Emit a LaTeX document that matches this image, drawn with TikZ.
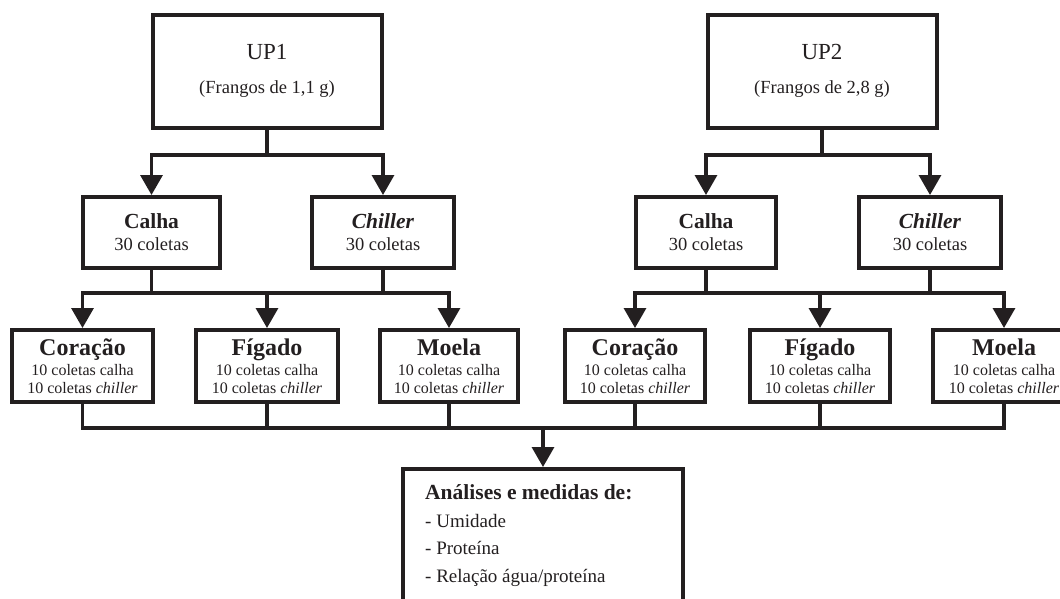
\documentclass[tikz,border=0pt]{standalone}
\usepackage{fontspec}
\setmainfont{Liberation Serif}
\usepackage{xcolor}
\usepackage{tikz}
\usetikzlibrary{positioning,arrows.meta}

\definecolor{ink}{RGB}{35,31,32}
\newcommand{\fs}[2]{\fontsize{#1}{#2}\selectfont}
\tikzset{
    caixa/.style={rectangle, draw=ink, line width=4pt, align=center, inner sep=0pt, text=ink},
    caixaup/.style={caixa, minimum width=229pt, minimum height=113pt, font=\fs{18.5}{34}},
    caixatrat/.style={caixa, minimum width=140pt, minimum height=71pt, font=\fs{18.5}{22}},
    caixaorg/.style={caixa, minimum width=141pt, minimum height=72pt, font=\fs{16}{17.5}},
    linha/.style={draw=ink, line width=3.3pt, line cap=rect},
    seta/.style={linha, -{Triangle[width=22pt,length=20pt]}},
}

\begin{document}
\begin{tikzpicture}[x=1pt, y=-1pt]
    \useasboundingbox (0,0) rectangle (1060,598);
    \clip (0,0) rectangle (1060,598);

    % unidades de producao
    \node(up1) [caixaup] at (267,71) {{\fs{23}{34}UP1}\\(Frangos de 1,1 g)};
    \node(up2) [caixaup] at (822,71) {{\fs{23}{34}UP2}\\(Frangos de 2,8 g)};

    % pontos de coleta
    \node(calha1) [caixatrat, minimum width=137pt] at (151.5,232.5) {{\fs{21.5}{22}\textbf{Calha}}\\30 coletas};
    \node(chiller1) [caixatrat, minimum width=142pt] at (383,232.5) {{\fs{21.5}{22}\textbf{\textit{Chiller}}}\\30 coletas};
    \node(calha2) [caixatrat] at (706,232.5) {{\fs{21.5}{22}\textbf{Calha}}\\30 coletas};
    \node(chiller2) [caixatrat, minimum width=142pt] at (930,232.5) {{\fs{21.5}{22}\textbf{\textit{Chiller}}}\\30 coletas};

    % orgaos
    \node(coracao1) [caixaorg] at (82.5,366) {{\fs{24}{24}\textbf{Coração}}\\[2.5pt]10 coletas calha\\10 coletas \textit{chiller}};
    \node(figado1) [caixaorg, minimum width=142pt] at (267,366) {{\fs{24}{24}\textbf{Fígado}}\\[2.5pt]10 coletas calha\\10 coletas \textit{chiller}};
    \node(moela1) [caixaorg, minimum width=138pt] at (449,366) {{\fs{24}{24}\textbf{Moela}}\\[2.5pt]10 coletas calha\\10 coletas \textit{chiller}};
    \node(coracao2) [caixaorg, minimum width=140pt] at (635,366) {{\fs{24}{24}\textbf{Coração}}\\[2.5pt]10 coletas calha\\10 coletas \textit{chiller}};
    \node(figado2) [caixaorg, minimum width=140pt] at (820,366) {{\fs{24}{24}\textbf{Fígado}}\\[2.5pt]10 coletas calha\\10 coletas \textit{chiller}};
    \node(moela2) [caixaorg, minimum width=142pt] at (1004,366) {{\fs{24}{24}\textbf{Moela}}\\[2.5pt]10 coletas calha\\10 coletas \textit{chiller}};

    % analises
    \node(analise) [caixa, minimum width=280pt, minimum height=170pt, anchor=north] at (543,467) {};
    \node(itens) [anchor=base west, align=left, inner sep=0pt, text=ink, font=\fs{19}{27.5}] at (425,582) {{\fs{21.5}{27.5}\textbf{Análises e medidas de:}}\\- Umidade\\- Proteína\\- Relação água/proteína};

    \coordinate(bus1) at (0,155);
    \coordinate(bus2) at (0,293);
    \coordinate(bus3) at (0,428);

    % ligacoes
    \draw[linha] (up1.south) -- (up1.south |- bus1);
    \draw[seta] (up1.south |- bus1) -| (calha1.north);
    \draw[seta] (up1.south |- bus1) -| (chiller1.north);
    \draw[linha] (up2.south) -- (up2.south |- bus1);
    \draw[seta] (up2.south |- bus1) -| (calha2.north);
    \draw[seta] (up2.south |- bus1) -| (chiller2.north);

    \draw[linha] (calha1.south) -- (calha1.south |- bus2);
    \draw[linha] (chiller1.south) -- (chiller1.south |- bus2);
    \draw[linha] (coracao1.north |- bus2) -- (moela1.north |- bus2);
    \draw[linha] (calha2.south) -- (calha2.south |- bus2);
    \draw[linha] (chiller2.south) -- (chiller2.south |- bus2);
    \draw[linha] (coracao2.north |- bus2) -- (moela2.north |- bus2);
    \foreach \org in {coracao1, figado1, moela1, coracao2, figado2, moela2}
        \draw[seta] (\org.north |- bus2) -- (\org.north);

    \draw[linha] (coracao1.south) |- (moela2.south |- bus3) -- (moela2.south);
    \foreach \org in {figado1, moela1, coracao2, figado2}
        \draw[linha] (\org.south) -- (\org.south |- bus3);
    \draw[seta] (analise.north |- bus3) -- (analise.north);
\end{tikzpicture}
\end{document}
